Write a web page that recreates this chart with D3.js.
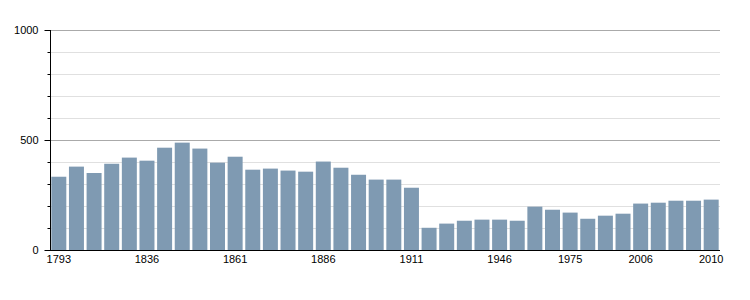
<!DOCTYPE html>
<html><head><meta charset="utf-8">
<script src="https://cdn.jsdelivr.net/npm/d3@7"></script>
<style>body{margin:0;background:#fff}svg{display:block}text{font-family:"Liberation Sans",Arial,sans-serif;font-size:11px;fill:#000}</style>
</head><body>
<svg id="c" width="750" height="300"></svg>
<script>
const years = [1793,1800,1806,1821,1831,1836,1841,1846,1851,1856,1861,1866,1872,1876,1881,1886,1891,1896,1901,1906,1911,1921,1926,1931,1936,1946,1954,1962,1968,1975,1982,1990,1999,2006,2007,2008,2009,2010];
const population = [333,379,350,392,420,406,465,488,461,397,424,365,370,361,356,402,374,342,320,320,283,101,120,133,138,138,133,197,183,170,142,156,165,211,215,224,224,229];
const xLabels = [1793,1836,1861,1886,1911,1946,1975,2006,2010];
const yMajor = [0,500,1000];
const yMinor = [100,200,300,400,600,700,800,900];

const svg = d3.select("#c");
const L=50, R=720, T=30, B=250;
const x = d3.scaleBand().domain(years).range([L,R]).paddingInner(0.15).paddingOuter(0.075);
const y = d3.scaleLinear().domain([0,1000]).range([B,T]);

svg.append("g").selectAll("line").data(yMinor).join("line")
  .attr("x1",L).attr("x2",R).attr("y1",d=>y(d)+0.5).attr("y2",d=>y(d)+0.5)
  .attr("stroke","#e0e0e0").attr("stroke-width",1);
svg.append("g").selectAll("line").data(yMajor.filter(d=>d>0)).join("line")
  .attr("x1",L).attr("x2",R).attr("y1",d=>y(d)+0.5).attr("y2",d=>y(d)+0.5)
  .attr("stroke","#aaaaaa").attr("stroke-width",1);

svg.append("g").selectAll("rect").data(years).join("rect")
  .attr("x",d=>x(d)).attr("width",x.bandwidth())
  .attr("y",(d,i)=>y(population[i])).attr("height",(d,i)=>B-y(population[i]))
  .attr("fill","#7f9ab2");

// y axis
const ya = svg.append("g").attr("transform",`translate(${L+0.5},0)`);
ya.append("line").attr("x1",0).attr("x2",0).attr("y1",T).attr("y2",B).attr("stroke","#000");
ya.selectAll(".mj").data(yMajor).join("line").attr("class","mj")
  .attr("x1",-6).attr("x2",0).attr("y1",d=>y(d)+0.5).attr("y2",d=>y(d)+0.5).attr("stroke","#000");
ya.selectAll(".mn").data(yMinor).join("line").attr("class","mn")
  .attr("x1",-3).attr("x2",0).attr("y1",d=>y(d)+0.5).attr("y2",d=>y(d)+0.5).attr("stroke","#000");
ya.selectAll("text").data(yMajor).join("text")
  .attr("x",-12).attr("y",d=>y(d)+4).attr("text-anchor","end").text(d=>d);

// x axis
svg.append("line").attr("x1",45).attr("x2",R).attr("y1",B+0.5).attr("y2",B+0.5).attr("stroke","#000");
svg.append("g").selectAll("text").data(xLabels).join("text")
  .attr("x",d=>x(d)+x.bandwidth()/2).attr("y",B+13).attr("text-anchor","middle").text(d=>d);
</script>
</body></html>
